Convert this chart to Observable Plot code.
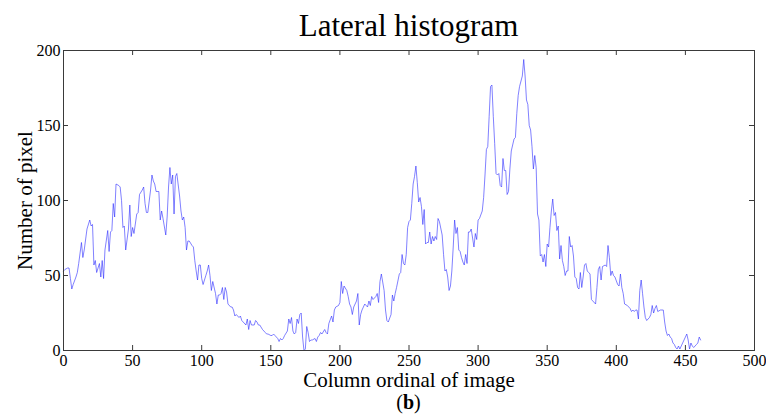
<!DOCTYPE html>
<html>
<head>
<meta charset="utf-8">
<script src="https://cdn.jsdelivr.net/npm/d3@7"></script>
<script src="https://cdn.jsdelivr.net/npm/@observablehq/plot@0.6"></script>
<style>
  html, body { margin: 0; padding: 0; background: #fff; }
  #wrap { width: 766px; height: 419px; overflow: hidden; font-family: "Liberation Serif", "Times New Roman", serif; }
  #title { margin-left: 63px; width: 691px; height: 30px; padding-top: 10px; text-align: center; font-size: 31px; line-height: 1; color: #000; }
  #caption { margin-left: 63px; width: 691px; margin-top: -2px; text-align: center; font-size: 20px; line-height: 20px; color: #000; }
  svg { display: block; overflow: visible; }
</style>
</head>
<body>
<div id="wrap">
  <div id="title">Lateral histogram</div>
  <div id="chart"></div>
  <div id="caption">(<b>b</b>)</div>
</div>
<script>
const titleText = "Lateral histogram";
const xLabel = "Column ordinal of image";
const yLabel = "Number of pixel";
const xTicks = [0, 50, 100, 150, 200, 250, 300, 350, 400, 450, 500];
const yTicks = [0, 50, 100, 150, 200];

const columns = [0,1,3,4,5,6,7,9,10,11,13,14,15,17,19,20,21,22,23,24,26,27,28,29,30,32,33,34,35,36,37,38,40,41,42,43,44,45,47,48,49,50,51,53,54,55,57,58,59,60,61,63,64,65,66,67,69,70,71,72,74,75,76,77,78,79,80,81,82,84,85,86,87,88,89,90,91,93,94,95,96,97,98,99,100,101,103,104,105,106,107,108,110,111,112,113,114,115,116,117,118,119,121,122,123,124,125,127,128,129,130,132,133,134,135,136,138,139,140,141,142,144,145,146,147,148,150,151,152,153,155,156,157,158,159,160,162,163,164,165,166,167,168,169,170,171,172,173,174,175,176,177,178,179,180,182,183,184,185,186,187,189,190,191,192,194,195,196,197,199,200,201,202,203,205,206,207,208,209,210,212,213,214,215,216,217,218,220,221,222,223,224,226,227,228,229,230,232,233,234,235,237,238,239,240,241,243,244,245,246,247,248,249,250,251,252,253,254,255,256,257,258,259,260,261,262,263,264,265,266,267,268,269,270,271,272,274,275,276,277,278,279,280,281,282,283,284,285,286,287,288,289,290,291,292,293,294,295,297,298,299,300,301,303,304,305,306,307,308,309,310,311,312,313,314,315,316,317,318,319,320,321,322,323,324,326,327,328,329,330,332,333,334,335,336,337,338,339,340,341,342,343,344,345,346,347,348,349,350,351,352,353,354,355,356,357,358,359,360,361,362,363,364,365,366,367,368,369,370,371,372,373,374,375,376,377,378,379,380,381,382,383,385,386,387,388,389,390,392,393,394,395,396,397,398,399,401,402,403,404,405,406,408,409,410,411,412,413,414,415,416,417,418,419,420,421,422,423,424,425,426,427,428,429,430,432,434,435,436,437,438,439,440,441,442,443,444,445,446,447,448,449,450,451,452,453,454,455,456,457,458,459,460,461];

const pixelCounts = [53,54,55,55,48,41,44,49,52,58,72,62,67,81,87,83,84,57,60,52,58,49,60,48,67,80,66,79,80,98,89,111,110,109,100,82,83,67,81,97,76,82,78,91,92,104,107,109,98,92,92,107,117,113,111,106,106,87,93,88,77,89,109,122,111,117,91,116,118,103,93,87,89,82,67,73,73,70,69,60,53,47,57,57,48,44,50,53,57,50,40,46,38,31,37,37,38,42,34,42,39,31,29,29,27,23,24,22,23,20,19,17,21,14,20,17,17,20,19,17,17,14,13,12,11,11,10,10,11,10,8,6,8,7,8,10,13,21,18,22,13,11,12,21,18,24,25,9,0,1,16,12,6,7,7,8,6,9,10,12,11,14,12,11,18,23,19,27,29,30,32,46,38,43,40,36,31,29,24,29,33,38,17,24,27,29,31,29,33,30,36,34,36,38,32,46,51,40,27,20,19,24,37,33,38,42,51,52,64,58,57,64,82,86,87,98,111,116,123,112,99,102,96,84,94,71,72,72,79,71,76,73,76,74,88,86,77,64,53,54,49,40,43,53,69,87,78,82,67,66,62,59,57,64,58,79,79,81,69,78,74,87,88,93,102,117,134,136,156,176,177,156,138,118,117,118,110,109,128,120,120,104,106,121,133,141,142,158,170,176,183,194,183,167,164,150,147,136,121,130,122,91,87,63,64,59,64,56,71,69,82,93,101,90,92,80,83,61,70,60,56,50,53,53,76,69,70,63,49,48,42,41,52,42,49,57,58,53,52,51,34,33,31,42,54,56,47,56,57,56,70,62,50,53,50,49,44,43,51,42,38,31,30,29,28,26,27,26,27,27,21,40,47,38,29,22,20,21,22,24,30,25,28,30,26,27,27,19,13,10,11,9,8,5,4,2,1,3,1,3,5,7,9,11,7,1,5,3,2,3,4,5,9,7];

const series = columns.map((c, i) => ({col: c, count: pixelCounts[i]}));

const axisColor = "#3a3a3a";
const font = "Liberation Serif";

const chart = Plot.plot({
  width: 766,
  height: 354,
  marginLeft: 63,
  marginRight: 12,
  marginTop: 10,
  marginBottom: 44,
  style: {fontFamily: font, background: "#fff", color: "#000", overflow: "visible"},
  x: {domain: [0, 500], ticks: xTicks},
  y: {domain: [0, 200], ticks: yTicks},
  marks: [
    Plot.line(series, {x: "col", y: "count", stroke: "#2b2bff", strokeWidth: 0.6}),
    Plot.frame({stroke: axisColor, strokeWidth: 1}),
    Plot.ruleX(xTicks, {x: d => d, insetTop: 295, stroke: axisColor}),
    Plot.ruleX(xTicks, {x: d => d, insetBottom: 295, stroke: axisColor}),
    Plot.ruleY(yTicks, {y: d => d, insetRight: 686, stroke: axisColor}),
    Plot.ruleY(yTicks, {y: d => d, insetLeft: 686, stroke: axisColor}),
    Plot.axisX(xTicks, {tickSize: 0, tickPadding: 4, fontSize: 16, label: null, fill: "#000"}),
    Plot.axisY(yTicks, {tickSize: 0, tickPadding: 3, fontSize: 16, label: null, fill: "#000"}),
    Plot.text([xLabel], {text: d => d, frameAnchor: "bottom", lineAnchor: "middle", textAnchor: "middle", dy: 30, fontSize: 21, fill: "#000"}),
    Plot.text([yLabel], {text: d => d, frameAnchor: "left", lineAnchor: "middle", textAnchor: "middle", rotate: -90, dx: -38, fontSize: 21, fill: "#000"})
  ]
});
document.getElementById("chart").appendChild(chart);
</script>
</body>
</html>
